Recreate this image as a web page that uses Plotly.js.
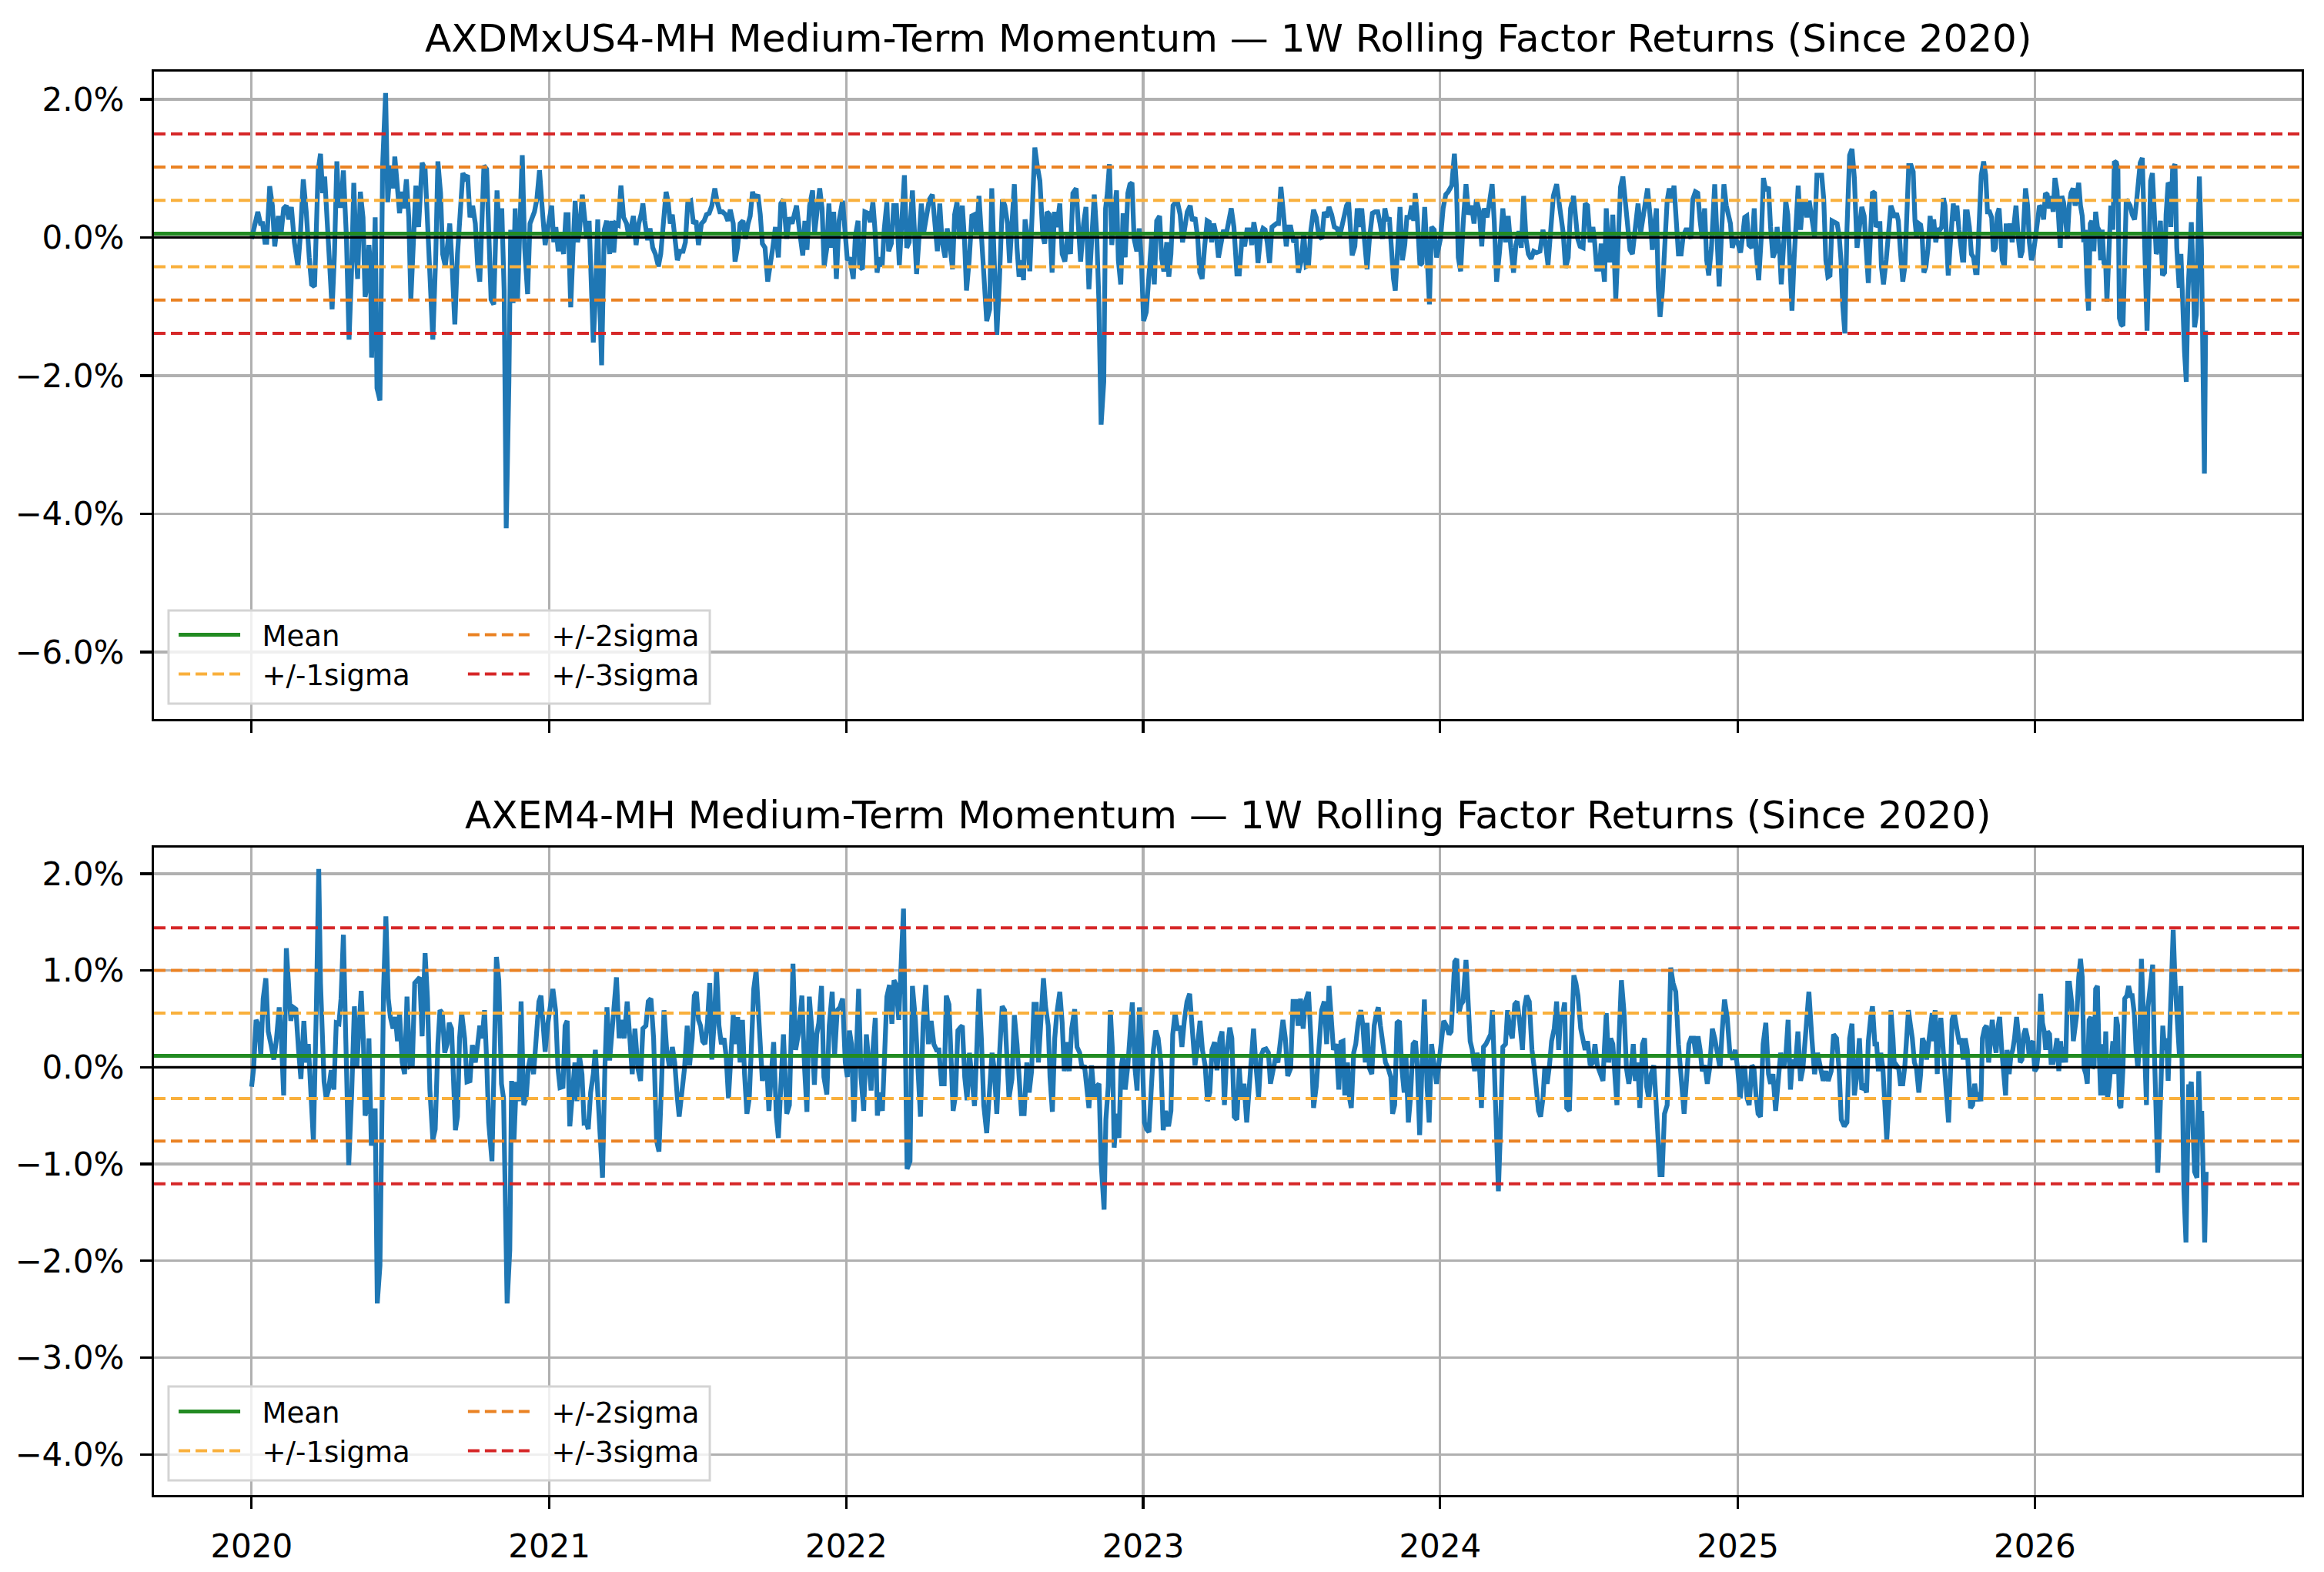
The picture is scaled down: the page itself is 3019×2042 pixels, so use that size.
<!DOCTYPE html>
<html>
<head>
<meta charset="utf-8">
<script src="https://cdn.plot.ly/plotly-3.0.1.min.js"></script>
<style>
  html, body { margin: 0; padding: 0; background: #fff; }
  #chart { width: 3019px; height: 2042px; }
</style>
</head>
<body>
<div id="chart"></div>
<script>
// sample positions are years since 2020-01-01, returns are 1W rolling returns in %
var dmYears = [
  0.000,0.007,0.021,0.030,0.037,0.045,0.051,0.061,0.070,0.078,
  0.090,0.099,0.108,0.117,0.125,0.134,0.144,0.156,0.164,0.174,
  0.184,0.194,0.202,0.212,0.224,0.232,0.239,0.246,0.253,0.263,
  0.271,0.279,0.287,0.293,0.301,0.309,0.319,0.328,0.337,0.344,
  0.352,0.357,0.366,0.375,0.382,0.386,0.395,0.400,0.404,0.411,
  0.416,0.422,0.432,0.438,0.441,0.451,0.458,0.467,0.477,0.482,
  0.489,0.498,0.505,0.512,0.521,0.529,0.536,0.545,0.553,0.562,
  0.574,0.584,0.592,0.600,0.610,0.620,0.627,0.636,0.643,0.652,
  0.660,0.667,0.675,0.684,0.693,0.703,0.711,0.719,0.727,0.735,
  0.744,0.753,0.761,0.768,0.776,0.782,0.791,0.798,0.806,0.815,
  0.822,0.826,0.834,0.842,0.850,0.857,0.866,0.872,0.880,0.887,
  0.895,0.902,0.911,0.919,0.929,0.937,0.945,0.952,0.960,0.969,
  0.979,0.988,0.996,1.002,1.010,1.017,1.024,1.032,1.040,1.050,
  1.058,1.065,1.074,1.082,1.089,1.097,1.103,1.113,1.121,1.128,
  1.136,1.143,1.150,1.157,1.165,1.171,1.178,1.187,1.195,1.205,
  1.212,1.219,1.226,1.234,1.243,1.252,1.262,1.270,1.278,1.285,
  1.294,1.303,1.312,1.317,1.323,1.333,1.341,1.350,1.359,1.369,
  1.377,1.385,1.395,1.402,1.409,1.416,1.424,1.433,1.442,1.452,
  1.460,1.468,1.478,1.487,1.496,1.504,1.514,1.523,1.531,1.540,
  1.549,1.559,1.567,1.576,1.585,1.595,1.603,1.611,1.621,1.627,
  1.635,1.644,1.654,1.662,1.671,1.678,1.686,1.694,1.704,1.712,
  1.719,1.728,1.737,1.746,1.754,1.763,1.773,1.781,1.790,
  1.801,1.810,1.819,1.826,1.834,1.843,1.855,1.862,1.869,1.878,
  1.888,1.895,1.903,1.912,1.920,1.927,1.936,1.943,1.950,1.959,
  1.968,1.977,1.989,1.998,2.005,2.013,2.025,2.032,2.041,2.046,
  2.056,2.064,2.074,2.082,2.091,2.098,2.105,2.113,2.122,2.129,
  2.138,2.144,2.153,2.161,2.170,2.180,2.188,2.197,2.205,2.213,
  2.224,2.232,2.238,2.246,2.254,2.262,2.272,2.281,2.291,2.299,
  2.308,2.316,2.324,2.334,2.341,2.349,2.359,2.366,2.374,2.383,
  2.392,2.399,2.406,2.415,2.424,2.433,2.440,2.448,2.456,2.465,
  2.474,2.484,2.491,2.499,2.508,2.517,2.527,2.535,2.544,2.551,
  2.559,2.567,2.576,2.583,2.591,2.598,2.603,2.611,2.619,2.627,
  2.636,2.644,2.653,2.663,2.669,2.677,2.685,2.694,2.702,2.710,
  2.720,2.728,2.737,2.746,2.756,2.764,2.775,2.782,2.790,2.800,
  2.808,2.818,2.827,2.836,2.844,2.851,2.859,2.868,2.874,2.880,
  2.887,2.895,2.903,2.911,2.917,2.925,2.933,2.940,2.949,2.956,
  2.963,2.970,2.979,2.987,2.994,3.002,3.011,3.020,3.029,3.038,
  3.046,3.056,3.063,3.070,3.080,3.087,3.094,3.101,3.110,3.116,
  3.125,3.133,3.142,3.149,3.159,3.166,3.175,3.184,3.191,3.199,
  3.207,3.216,3.223,3.231,3.238,3.247,3.254,3.262,3.271,3.279,
  3.287,3.297,3.306,3.316,3.324,3.333,3.342,3.350,3.359,3.366,
  3.373,3.381,3.387,3.396,3.404,3.411,3.418,3.426,3.434,3.442,
  3.449,3.456,3.464,3.473,3.482,3.490,3.497,3.507,3.515,3.523,
  3.533,3.541,3.549,3.557,3.565,3.574,3.583,3.592,3.602,3.610,
  3.618,3.626,3.635,3.644,3.653,3.662,3.669,3.677,3.685,3.692,
  3.698,3.704,3.713,3.721,3.728,3.736,3.745,3.754,3.762,3.772,
  3.781,3.790,3.798,3.806,3.814,3.822,3.829,3.837,3.843,3.849,
  3.856,3.865,3.873,3.881,3.888,3.897,3.904,3.911,3.916,3.923,
  3.932,3.939,3.948,3.956,3.964,3.971,3.980,3.988,3.995,4.001,
  4.010,4.019,4.027,4.039,4.048,4.055,4.061,4.069,4.078,4.087,
  4.096,4.106,4.114,4.122,4.132,4.140,4.148,4.158,4.166,4.175,
  4.182,4.190,4.200,4.211,4.220,4.229,4.238,4.247,4.255,4.265,
  4.273,4.281,4.289,4.297,4.306,4.315,4.324,4.336,4.346,4.354,
  4.363,4.372,4.381,4.392,4.400,4.407,4.414,4.422,4.431,4.439,
  4.449,4.455,4.463,4.471,4.481,4.488,4.496,4.505,4.514,4.520,
  4.527,4.536,4.542,4.548,4.553,4.559,4.568,4.574,4.581,4.591,
  4.600,4.607,4.615,4.624,4.631,4.639,4.647,4.657,4.666,4.675,
  4.683,4.690,4.698,4.707,4.714,4.722,4.728,4.734,4.740,4.748,
  4.755,4.764,4.771,4.779,4.787,4.795,4.802,4.811,4.818,4.827,
  4.835,4.844,4.850,4.859,4.867,4.875,4.882,4.890,4.897,4.904,
  4.913,4.924,4.932,4.939,4.948,4.955,4.963,4.971,4.977,4.983,
  4.992,5.001,5.011,5.018,5.025,5.032,5.039,5.049,5.057,5.064,
  5.072,5.081,5.088,5.096,5.105,5.112,5.120,5.128,5.134,5.143,
  5.148,5.156,5.163,5.170,5.177,5.184,5.191,5.198,5.205,5.213,
  5.220,5.227,5.234,5.242,5.251,5.260,5.268,5.277,5.284,5.291,
  5.298,5.305,5.312,5.319,5.328,5.336,5.343,5.349,5.355,5.362,
  5.369,5.378,5.386,5.394,5.403,5.411,5.419,
  5.427,5.432,5.441,5.449,5.455,5.462,5.467,5.474,5.480,5.485,
  5.492,5.501,5.511,5.517,5.524,5.529,5.536,5.542,5.549,5.557,
  5.564,5.571,5.577,5.585,5.592,5.598,5.603,5.611,5.617,5.622,
  5.628,5.635,5.642,5.649,5.656,5.661,5.668,5.675,5.682,5.688,
  5.694,5.699,5.705,5.710,5.716,5.722,5.727,5.733,5.739,5.746,
  5.751,5.758,5.762,5.768,5.774,5.781,5.788,5.795,5.802,5.807,
  5.814,5.821,5.829,5.836,5.842,5.849,5.856,5.862,5.869,5.875,
  5.881,5.886,5.892,5.899,5.905,5.911,5.918,5.925,5.932,5.938,
  5.945,5.953,5.959,5.964,5.970,5.977,5.983,5.990,5.996,6.003,
  6.010,6.017,6.024,6.031,6.037,6.043,6.050,6.056,6.063,6.069,
  6.076,6.082,6.087,6.092,6.098,6.105,6.111,6.117,6.123,6.130,
  6.137,6.143,6.149,6.155,6.161,6.166,6.171,6.177,6.182,6.188,
  6.193,6.200,6.206,6.212,6.217,6.223,6.228,6.234,6.240,6.244,
  6.251,6.257,6.264,6.269,6.276,6.281,6.286,6.292,6.298,6.303,
  6.309,6.315,6.322,6.329,6.337,6.343,6.350,6.356,6.363,6.369,
  6.375,6.379,6.385,6.391,6.397,6.403,6.410,6.417,6.424,6.431,
  6.438,6.443,6.450,6.454,6.459,6.465,6.473,6.479,6.487,6.493,
  6.499,6.505,6.511,6.517,6.524,6.528,6.534,6.539,6.545,6.549,
  6.555,6.562,6.567,6.572,6.576
];
var dmReturns = [
  -0.02,0.09,0.37,0.20,0.20,-0.07,-0.07,0.74,0.46,-0.13,
  0.31,0.04,0.42,0.46,0.26,0.44,-0.07,-0.42,0.02,0.84,
  0.37,-0.29,-0.68,-0.71,0.97,1.21,0.64,0.88,0.42,-0.42,
  -1.04,-0.24,1.10,0.46,0.46,0.97,0.02,-1.48,-0.42,0.79,
  -0.24,-0.60,0.66,0.29,-0.86,-0.77,-0.11,-0.42,-1.74,-0.42,
  0.29,-2.18,-2.36,-0.15,1.04,2.09,0.51,1.04,0.71,1.17,
  0.77,0.35,0.66,0.42,0.84,0.29,-0.90,-0.15,0.75,0.15,
  1.08,0.99,0.11,-0.42,-1.48,-0.24,1.10,0.64,-0.24,-0.42,
  -0.15,0.20,-0.42,-1.26,-0.24,0.46,0.93,0.86,0.90,0.29,
  0.46,0.20,-0.42,-0.64,0.24,1.04,0.99,-0.07,-0.90,-0.97,
  0.20,0.68,0.02,0.42,-0.77,-4.21,-2.09,0.11,-0.95,0.42,
  -0.90,0.13,1.19,-0.15,-0.82,0.20,0.29,0.37,0.55,0.97,
  0.37,-0.11,0.11,0.24,0.46,-0.07,0.15,-0.20,0.02,-0.24,
  0.33,0.33,-1.01,-0.15,0.53,-0.07,0.07,0.62,0.33,-0.02,
  0.24,-0.86,-1.52,-0.86,0.26,-0.86,-1.85,0.11,0.24,-0.24,
  0.24,-0.22,0.20,0.18,0.75,0.29,0.20,0.00,0.20,0.31,
  -0.11,0.20,0.35,0.49,0.24,-0.04,0.13,-0.15,-0.24,-0.42,
  -0.24,0.20,0.66,0.51,0.20,0.33,0.02,-0.33,-0.20,-0.20,
  -0.07,0.51,0.53,0.20,0.24,-0.11,0.20,0.24,0.33,0.35,
  0.46,0.71,0.51,0.37,0.37,0.33,0.24,0.40,0.20,-0.35,
  -0.15,0.20,0.24,-0.02,0.20,0.31,0.66,0.55,0.62,0.33,
  -0.09,-0.15,-0.64,-0.42,-0.15,0.15,-0.29,0.49,0.55,
  -0.02,0.29,0.20,0.35,0.46,0.13,-0.26,0.24,-0.18,0.46,
  0.68,0.07,0.46,0.71,0.42,-0.42,-0.15,0.49,-0.15,0.37,
  -0.60,0.24,0.53,0.02,-0.33,-0.29,-0.60,0.02,0.24,-0.42,
  -0.46,0.37,0.35,0.22,0.51,0.11,-0.51,-0.29,-0.42,0.11,
  0.51,-0.20,-0.09,0.46,0.46,-0.40,0.37,0.90,-0.15,-0.07,
  0.68,-0.07,-0.53,-0.02,0.49,0.07,0.37,0.55,0.62,0.20,
  -0.20,0.49,-0.07,-0.29,0.13,-0.07,-0.46,0.33,0.51,-0.02,
  0.46,-0.02,-0.77,-0.33,0.31,0.33,0.04,0.60,0.02,-0.60,
  -1.21,-1.04,0.71,-0.29,-1.41,-0.60,0.55,0.46,0.20,-0.37,
  0.24,0.77,-0.15,-0.57,-0.33,-0.62,0.26,0.02,-0.49,0.46,
  1.30,1.04,0.82,0.02,-0.09,0.37,0.33,-0.51,0.37,0.15,
  0.49,-0.24,-0.35,0.02,-0.24,0.64,0.71,0.20,-0.35,0.20,
  0.44,-0.75,-0.15,0.62,0.07,-0.86,-2.71,-2.09,0.42,0.64,
  1.06,-0.11,0.37,0.68,-0.33,-0.68,0.35,-0.29,0.64,0.77,
  0.79,-0.02,-0.20,0.13,-0.29,-1.21,-1.08,-0.55,-0.02,-0.68,
  0.24,0.31,-0.31,-0.49,-0.07,-0.57,-0.24,0.46,0.51,0.51,
  0.33,-0.07,0.24,0.37,0.46,0.24,0.29,0.00,-0.51,-0.60,
  -0.15,0.24,0.22,-0.07,0.20,0.02,-0.29,-0.07,0.11,0.02,
  0.18,0.42,0.15,-0.53,-0.53,-0.02,-0.13,0.11,0.11,-0.11,
  0.22,0.02,-0.37,0.02,0.13,0.11,-0.07,-0.37,0.15,0.18,
  0.20,0.20,0.73,0.33,-0.13,0.15,0.15,-0.07,-0.02,-0.51,
  -0.33,0.07,-0.42,-0.40,0.11,0.40,0.29,0.02,-0.02,0.37,
  0.29,0.44,0.33,0.15,0.13,0.02,0.15,0.24,0.46,0.51,
  -0.07,-0.26,-0.13,0.42,0.15,0.42,-0.02,-0.46,-0.02,0.35,
  0.37,0.37,0.20,-0.02,0.42,0.24,0.29,-0.42,-0.60,-0.77,
  -0.15,0.44,-0.33,-0.11,0.29,0.29,0.46,0.24,0.64,0.29,
  -0.40,-0.37,0.44,-0.42,-0.97,0.15,0.11,-0.29,-0.15,-0.02,
  0.42,0.62,0.66,0.75,1.21,0.73,-0.29,-0.49,0.24,0.77,
  0.33,0.46,0.20,0.55,0.37,-0.13,0.42,0.29,0.51,0.77,
  0.24,-0.64,-0.20,0.42,-0.07,0.31,-0.15,-0.51,-0.11,0.09,
  -0.15,0.60,-0.02,-0.24,-0.31,-0.20,-0.22,-0.20,0.11,-0.07,
  -0.40,0.15,0.60,0.77,0.51,0.24,0.07,-0.44,-0.29,0.42,
  0.60,0.33,-0.02,-0.13,-0.15,0.49,0.46,-0.07,0.15,-0.07,
  -0.46,-0.46,-0.09,-0.42,-0.64,0.42,-0.33,-0.33,0.33,-0.90,
  0.15,0.73,0.88,0.46,0.24,-0.18,-0.24,0.11,0.49,0.07,
  0.29,0.49,0.71,0.29,-0.18,0.20,0.42,-0.73,-1.15,-0.77,
  -0.15,0.53,0.71,0.51,0.75,0.11,-0.24,-0.24,0.02,0.11,
  0.11,-0.02,0.55,0.66,0.64,0.24,-0.02,0.42,-0.33,-0.55,
  -0.15,0.77,0.02,-0.71,0.15,0.77,0.46,0.33,0.20,-0.15,
  -0.02,-0.07,-0.22,0.02,0.29,0.31,-0.11,-0.15,0.42,-0.24,
  -0.62,0.02,0.86,0.68,0.73,0.15,-0.29,-0.20,0.15,-0.24,
  -0.68,-0.11,0.53,0.33,-0.33,-1.06,-0.33,0.33,0.75,0.11,
  0.51,0.51,0.29,0.53,0.24,0.02,0.90,0.90,0.90,0.55,
  -0.33,-0.57,-0.55,0.24,0.22,0.20,0.02,-0.33,-0.99,-1.39,
  0.11,1.19,1.28,0.86,-0.15,0.24,0.44,
  0.31,-0.15,-0.66,0.11,0.66,0.64,0.15,0.20,0.20,-0.42,
  -0.68,-0.33,0.15,0.46,0.37,0.29,0.35,0.24,-0.20,-0.64,
  -0.42,0.55,1.04,1.04,0.95,0.24,0.02,0.20,0.18,0.02,
  -0.51,-0.42,-0.15,0.31,0.02,0.26,-0.07,0.11,0.11,0.15,
  0.57,0.46,0.02,-0.55,-0.15,0.24,0.49,0.24,0.46,0.11,
  -0.15,-0.33,-0.33,0.37,0.37,0.15,-0.24,-0.29,-0.51,-0.51,
  0.20,0.90,1.10,0.90,0.37,0.37,0.29,-0.20,-0.15,0.33,
  0.42,-0.07,-0.33,-0.42,0.20,-0.02,0.20,-0.07,0.24,0.46,
  0.02,-0.29,-0.20,0.33,0.71,0.46,-0.07,-0.33,-0.24,-0.02,
  0.24,0.46,0.42,0.26,0.64,0.62,0.42,0.60,0.37,0.86,
  0.68,0.20,-0.15,0.60,0.51,0.24,-0.02,0.46,0.64,0.71,
  0.46,0.60,0.79,0.46,0.31,-0.07,0.11,-0.68,-1.06,0.20,
  0.24,-0.20,0.37,0.15,0.11,-0.33,0.11,-0.37,-0.42,-0.93,
  -0.15,0.46,0.11,1.10,1.08,0.99,-1.17,-1.26,-1.28,-0.33,
  0.55,0.51,0.46,0.33,0.26,0.49,0.77,1.08,1.15,0.33,
  -0.99,-1.35,-0.33,0.82,0.93,0.29,-0.24,-0.15,0.24,-0.55,
  -0.51,0.33,0.79,0.77,0.15,0.99,1.06,-0.15,-0.73,-0.24,
  -1.04,-1.65,-2.09,-0.77,-0.15,0.22,-0.55,-1.30,-1.12,-0.33,
  0.88,-0.15,-1.35,-3.42,-1.35
];

var emYears = [
  0.000,0.007,0.015,0.024,0.031,0.039,0.048,0.056,0.065,0.075,
  0.083,0.093,0.100,0.108,0.117,0.125,0.132,0.140,0.149,0.158,
  0.166,0.176,0.184,0.191,0.200,0.208,0.218,0.226,0.232,0.239,
  0.244,0.251,0.259,0.268,0.277,0.285,0.294,0.301,0.309,0.317,
  0.327,0.337,0.346,0.354,0.363,0.369,0.376,0.382,0.389,0.395,
  0.403,0.410,0.416,0.423,0.432,0.438,0.444,0.452,0.460,0.467,
  0.476,0.484,0.491,0.498,0.507,0.515,0.523,0.533,0.541,0.549,
  0.558,0.566,0.574,0.584,0.592,0.600,0.610,0.618,0.627,0.634,
  0.642,0.650,0.658,0.665,0.673,0.681,0.686,0.693,0.700,0.707,
  0.717,0.725,0.735,0.743,0.753,0.761,0.768,0.776,0.784,0.791,
  0.798,0.809,0.818,0.824,0.832,0.841,0.848,0.856,0.860,0.869,
  0.875,0.883,0.891,0.899,0.907,0.916,0.924,0.931,0.939,0.949,
  0.957,0.967,0.974,0.981,0.988,0.996,1.006,1.014,1.023,1.031,
  1.038,1.048,1.055,1.062,1.071,1.080,1.088,1.095,1.103,1.112,
  1.119,1.126,1.133,1.141,1.150,1.157,1.165,1.175,1.181,1.189,
  1.196,1.205,1.213,1.221,1.228,1.237,1.245,1.254,1.264,1.273,
  1.281,1.290,1.300,1.309,1.317,1.327,1.335,1.344,1.353,1.363,
  1.371,1.379,1.388,1.397,1.407,1.416,1.424,1.433,1.439,1.448,
  1.457,1.466,1.474,1.483,1.490,1.497,1.504,1.511,1.518,1.526,
  1.534,1.542,1.549,1.556,1.565,1.573,1.581,1.590,1.597,1.605,
  1.614,1.621,1.628,1.636,1.644,1.652,1.659,1.667,1.675,1.683,
  1.690,1.698,1.706,1.713,1.719,1.727,1.734,1.741,1.749,1.757,
  1.766,1.773,1.781,1.790,
  1.801,1.810,1.822,1.831,1.840,1.852,1.861,1.869,1.877,1.886,
  1.894,1.902,1.909,1.918,1.926,1.936,1.944,1.954,1.962,1.971,
  1.980,1.989,1.998,2.005,2.012,2.019,2.027,2.035,2.043,2.051,
  2.060,2.069,2.077,2.085,2.091,2.099,2.106,2.114,2.123,2.131,
  2.138,2.147,2.155,2.162,2.169,2.178,2.186,2.194,2.200,2.206,
  2.216,2.224,2.234,2.242,2.251,2.260,2.269,2.278,2.287,2.296,
  2.305,2.313,2.322,2.331,2.338,2.347,2.354,2.361,2.369,2.377,
  2.385,2.392,2.400,2.408,2.416,2.424,2.433,2.440,2.448,2.456,
  2.464,2.474,2.484,2.492,2.499,2.508,2.516,2.526,2.534,2.541,
  2.549,2.559,2.567,2.576,2.583,2.591,2.600,2.609,2.617,2.625,
  2.633,2.641,2.648,2.657,2.665,2.672,2.681,2.687,2.695,2.703,
  2.710,2.720,2.728,2.735,2.744,2.752,2.760,2.770,2.778,2.787,
  2.795,2.803,2.810,2.818,2.827,2.836,2.844,2.852,2.859,2.869,
  2.875,2.883,2.890,2.897,2.903,2.911,2.919,2.926,2.933,2.940,
  2.949,2.957,2.964,2.973,2.980,2.988,2.996,3.005,3.012,3.020,
  3.027,3.035,3.043,3.051,3.060,3.068,3.076,3.086,3.094,3.100,
  3.108,3.117,3.124,3.131,3.139,3.148,3.157,3.166,3.175,3.184,
  3.192,3.200,3.209,3.217,3.225,3.232,3.241,3.249,3.259,3.266,
  3.274,3.282,3.292,3.299,3.307,3.316,3.324,3.331,3.340,3.349,
  3.356,3.364,3.372,3.380,3.389,3.397,3.405,3.414,3.422,3.429,
  3.437,3.446,3.454,3.462,3.471,3.479,3.487,3.497,3.505,3.514,
  3.522,3.530,3.539,3.547,3.557,3.565,3.574,3.583,3.592,3.601,
  3.610,
  3.618,3.626,3.633,3.641,3.650,3.659,3.666,3.673,3.679,3.688,
  3.695,3.701,3.709,3.716,3.724,3.733,3.740,3.748,3.754,3.762,
  3.770,3.778,3.786,3.792,3.799,3.808,3.816,3.825,3.834,3.840,
  3.847,3.855,3.863,3.871,3.879,3.885,3.893,3.900,3.909,3.917,
  3.923,3.931,3.939,3.947,3.956,3.963,3.971,3.980,3.988,3.994,
  4.004,4.012,4.021,4.030,4.037,4.043,4.049,4.056,4.063,4.070,
  4.077,4.087,4.094,4.101,4.108,4.116,4.124,4.132,4.139,4.146,
  4.154,4.163,4.170,4.176,4.182,4.189,4.196,4.203,4.211,4.220,
  4.227,4.235,4.243,4.251,4.259,4.267,4.277,4.284,4.291,4.300,
  4.309,4.317,4.324,4.331,4.338,4.346,4.352,4.360,4.368,4.375,
  4.384,4.392,4.399,4.405,4.413,4.419,4.426,4.435,4.443,4.450,
  4.457,4.464,4.473,4.481,4.488,4.496,4.505,4.514,4.521,4.529,
  4.538,4.548,4.553,4.559,4.567,4.574,4.581,4.588,4.595,4.603,
  4.610,4.619,4.627,4.635,4.643,4.650,4.657,4.665,4.672,4.681,
  4.688,4.695,4.702,4.710,4.719,4.726,4.734,4.740,4.747,4.755,
  4.764,4.771,4.776,4.784,4.793,4.802,4.811,4.821,4.829,4.837,
  4.844,4.853,4.861,4.868,4.875,4.882,4.891,4.899,4.907,4.916,
  4.924,4.932,4.942,4.949,4.957,4.966,4.975,4.985,4.993,5.001,
  5.010,5.018,5.025,5.033,5.040,5.049,5.056,5.063,5.070,5.078,
  5.087,5.096,5.105,5.112,5.120,5.129,5.138,5.146,5.156,5.164,
  5.171,5.179,5.186,5.195,5.204,5.213,5.221,5.230,5.241,5.251,
  5.260,5.270,5.279,5.289,5.298,5.306,5.316,5.324,5.334,5.343,
  5.350,5.360,5.369,5.378,5.386,5.394,5.403,5.411,5.419,
  5.427,5.435,5.441,5.449,5.455,5.463,5.469,5.475,5.483,5.490,
  5.497,5.503,5.511,5.517,5.524,5.529,5.536,5.543,5.549,5.557,
  5.564,5.571,5.576,5.583,5.589,5.596,5.603,5.611,5.617,5.623,
  5.631,5.637,5.644,5.649,5.656,5.661,5.666,5.673,5.677,5.685,
  5.691,5.698,5.705,5.711,5.718,5.723,5.730,5.735,5.742,5.748,
  5.754,5.760,5.767,5.774,5.779,5.785,5.792,5.799,5.807,5.813,
  5.820,5.825,5.832,5.839,5.846,5.853,5.858,5.864,5.871,5.878,
  5.883,5.890,5.896,5.903,5.908,5.915,5.921,5.927,5.933,5.940,
  5.945,5.952,5.958,5.964,5.970,5.977,5.982,5.989,5.995,6.001,
  6.007,6.014,6.021,6.027,6.033,6.038,6.044,6.051,6.056,6.063,
  6.069,6.076,6.082,6.088,6.093,6.100,6.105,6.112,6.118,6.125,
  6.131,6.138,6.143,6.149,6.155,6.161,6.167,6.173,6.178,6.184,
  6.190,6.195,6.201,6.206,6.212,6.217,6.223,6.228,6.234,6.240,
  6.246,6.251,6.258,6.264,6.269,6.275,6.280,6.286,6.291,6.298,
  6.304,6.311,6.317,6.324,6.329,6.336,6.342,6.348,6.354,6.360,
  6.366,6.372,6.377,6.382,6.388,6.392,6.398,6.403,6.410,6.415,
  6.421,6.426,6.432,6.438,6.445,6.450,6.454,6.462,6.467,6.473,
  6.478,6.484,6.488,6.493,6.498,6.503,6.510,6.514,6.519,6.524,
  6.528,6.533,6.539,6.547,6.553,6.558,6.563,6.568,6.573,6.578
];
var emReturns = [
  -0.20,-0.01,0.49,0.43,0.12,0.71,0.92,0.37,0.24,0.08,
  0.27,0.62,0.30,-0.29,1.23,0.84,0.48,0.62,0.60,0.18,
  -0.12,0.48,0.05,0.24,-0.20,-0.76,0.62,2.05,0.87,0.34,
  -0.15,-0.32,-0.23,-0.03,-0.23,0.46,0.45,0.71,1.37,0.30,
  -1.01,-0.26,0.63,-0.01,0.43,0.79,0.30,-0.50,-0.42,0.30,
  -0.81,-0.45,-0.45,-2.44,-2.05,-0.64,0.78,1.56,0.71,0.52,
  0.40,0.52,0.27,0.56,0.05,-0.07,0.73,0.01,0.02,0.87,
  0.90,0.93,0.32,1.18,0.71,-0.23,-0.75,-0.64,0.24,0.59,
  0.56,0.15,0.24,0.46,0.40,-0.32,-0.65,-0.51,0.30,0.57,
  0.30,-0.15,-0.14,0.23,0.05,0.24,0.43,0.30,0.59,0.08,
  -0.57,-0.97,0.15,1.14,0.90,-0.17,-0.32,-2.05,-2.44,-1.89,
  -0.14,-0.76,-0.15,-0.35,0.68,-0.39,-0.32,-0.01,0.12,-0.07,
  0.24,0.68,0.74,0.43,0.16,0.43,0.63,0.81,0.59,-0.01,
  -0.21,-0.20,0.43,0.48,-0.61,-0.29,0.05,-0.35,0.13,-0.07,
  -0.57,-0.56,-0.64,-0.26,-0.07,0.18,-0.20,-0.83,-1.14,-0.01,
  0.62,0.07,0.40,0.71,0.93,0.30,0.49,0.30,0.68,0.30,
  -0.07,0.40,-0.01,-0.14,0.40,0.43,0.68,0.71,0.30,-0.76,
  -0.87,-0.23,0.59,0.18,-0.01,0.21,0.05,-0.32,-0.51,-0.26,
  -0.01,0.43,0.02,0.30,0.74,0.78,0.49,0.43,0.27,0.24,
  0.46,0.87,0.08,0.43,1.00,0.43,0.24,0.30,0.12,-0.32,
  0.30,0.54,0.24,0.52,0.05,0.49,-0.07,-0.48,-0.32,0.43,
  0.81,1.00,0.65,0.18,-0.14,-0.01,-0.01,-0.45,-0.07,0.26,
  -0.51,-0.73,-0.20,0.34,
  -0.48,-0.39,1.07,0.18,0.34,0.74,-0.01,-0.46,0.73,0.37,
  -0.18,0.34,0.46,0.84,-0.10,-0.28,0.43,0.78,0.12,0.59,
  0.62,0.71,0.05,-0.10,0.38,0.24,-0.56,-0.01,0.81,-0.10,
  -0.45,0.34,0.08,-0.24,0.18,0.51,-0.50,-0.26,-0.45,0.12,
  0.73,0.85,0.45,0.90,0.85,0.49,1.15,1.64,0.30,-1.05,
  -0.97,0.84,0.49,-0.01,-0.51,0.46,0.85,0.24,0.48,0.24,
  0.18,0.18,-0.17,-0.17,0.74,0.65,-0.01,-0.45,-0.29,0.38,
  0.41,0.43,-0.10,-0.34,0.15,-0.12,-0.40,0.15,0.81,0.30,
  -0.39,-0.68,-0.29,0.15,-0.01,-0.48,0.07,0.63,0.59,0.12,
  -0.32,-0.12,0.54,0.24,-0.20,-0.48,-0.48,0.05,-0.26,-0.04,
  0.65,0.65,0.05,0.62,0.92,0.63,0.43,-0.10,-0.46,0.30,
  0.56,0.78,0.46,-0.04,0.26,-0.04,0.40,0.60,0.21,0.15,
  -0.01,0.02,-0.20,-0.42,0.02,-0.32,-0.20,-0.17,-0.98,-1.47,
  -0.54,-0.20,0.59,0.18,-0.83,-0.48,-0.73,-0.01,0.13,-0.23,
  0.02,0.30,0.67,-0.01,-0.24,0.62,0.24,-0.57,-0.64,-0.67,
  -0.14,0.18,0.38,0.30,0.05,-0.65,-0.45,-0.61,-0.45,0.34,
  0.56,0.38,0.43,0.21,0.48,0.68,0.76,0.37,0.02,0.24,
  0.48,0.18,0.02,-0.35,-0.26,0.18,0.26,-0.03,0.30,0.37,
  -0.39,0.15,0.41,0.30,-0.51,-0.54,-0.01,-0.32,-0.17,-0.57,
  -0.29,0.05,0.40,0.02,-0.31,0.12,0.18,0.19,0.15,-0.17,
  -0.01,0.10,0.05,0.30,0.49,0.30,-0.09,-0.01,0.68,0.68,
  0.43,0.71,0.40,0.68,0.78,0.30,-0.42,-0.20,0.24,0.59,
  0.68,
  0.24,0.84,0.49,0.18,0.24,-0.23,0.26,0.27,-0.29,0.05,
  -0.32,-0.42,0.15,0.24,0.46,0.59,0.43,0.05,0.46,-0.01,
  -0.07,0.43,0.56,0.62,0.43,0.21,0.05,-0.01,-0.10,-0.48,
  -0.39,0.46,0.48,-0.01,-0.26,0.12,-0.57,-0.32,0.24,0.27,
  0.02,-0.70,-0.14,0.70,-0.20,-0.57,0.24,-0.01,-0.17,-0.01,
  0.30,0.48,0.43,0.34,0.37,0.81,1.09,1.12,0.56,0.65,
  0.68,1.11,0.56,0.27,0.18,-0.04,0.15,0.02,-0.42,0.21,
  0.24,0.30,0.34,0.59,-0.01,-0.64,-1.28,-0.64,0.21,0.24,
  0.59,0.37,0.30,0.65,0.68,0.49,0.18,0.62,0.74,0.68,
  0.18,-0.01,-0.20,-0.45,-0.51,-0.32,-0.01,-0.17,0.02,0.27,
  0.40,0.68,0.18,0.52,0.56,0.67,-0.42,-0.45,0.40,0.95,
  0.87,0.74,0.40,0.30,0.18,0.27,0.02,0.05,0.24,0.02,
  -0.07,-0.14,0.21,0.56,0.05,0.30,0.24,-0.01,-0.39,0.37,
  0.90,0.56,-0.01,-0.17,-0.01,0.24,-0.14,0.05,-0.42,0.24,
  0.30,-0.20,-0.32,-0.07,0.02,-0.32,-0.83,-1.11,-1.11,-0.48,
  -0.39,0.62,1.03,0.87,0.78,0.24,-0.07,-0.48,-0.14,0.24,
  0.30,0.30,0.12,0.32,0.18,-0.04,0.02,-0.17,-0.01,0.40,
  0.30,0.15,-0.01,0.37,0.70,0.52,0.15,0.08,0.18,-0.01,
  -0.32,-0.01,-0.01,-0.32,-0.39,0.02,-0.01,-0.29,-0.48,-0.51,
  0.24,0.46,-0.07,-0.17,-0.07,-0.45,-0.04,0.15,-0.01,0.15,
  0.49,-0.23,0.08,-0.01,0.37,-0.14,-0.01,0.37,0.78,0.30,
  -0.07,0.15,-0.01,-0.14,-0.04,-0.14,-0.04,0.34,0.30,-0.04,
  -0.54,-0.61,-0.57,0.30,0.45,-0.29,-0.07,0.30,-0.23,
  -0.20,-0.26,0.27,0.52,0.63,0.24,0.24,-0.04,0.15,-0.01,
  -0.32,-0.75,-0.32,0.59,0.30,-0.01,0.02,-0.01,-0.17,-0.17,
  0.02,0.46,0.59,0.43,0.30,0.05,-0.01,-0.26,-0.07,0.30,
  0.24,0.08,0.24,0.40,0.56,0.27,0.59,-0.07,0.30,0.51,
  0.24,0.05,-0.32,-0.57,-0.01,0.49,0.56,0.43,0.34,0.24,
  0.30,0.08,0.30,0.18,-0.23,-0.42,-0.39,-0.17,-0.35,-0.26,
  -0.35,0.30,0.40,0.43,0.05,0.43,0.49,0.30,0.15,0.43,
  0.52,0.18,-0.01,-0.29,0.18,-0.07,0.12,0.18,0.30,0.52,
  0.37,0.05,0.08,0.34,0.40,0.30,0.12,0.24,0.27,-0.04,
  -0.01,0.18,0.76,0.46,0.37,0.18,0.37,0.34,0.05,0.05,
  0.15,0.30,-0.04,0.27,0.05,0.21,0.05,0.87,0.87,0.68,
  0.27,0.49,0.56,0.93,1.12,0.93,-0.01,-0.07,-0.17,0.49,
  0.52,-0.01,0.02,0.81,0.84,0.21,-0.29,0.24,-0.29,0.37,
  -0.32,-0.20,0.12,0.27,-0.07,0.52,0.43,-0.39,-0.42,-0.01,
  0.71,0.74,0.84,0.74,0.74,0.56,0.18,-0.01,0.24,1.12,
  0.62,-0.23,-0.39,0.62,0.78,0.90,1.06,0.24,-0.51,-1.09,
  -0.64,-0.20,0.43,0.18,0.30,-0.14,0.30,0.93,1.42,0.90,
  0.59,0.37,0.12,0.84,-0.57,-1.27,-1.81,-0.79,-0.20,-0.20,
  -0.15,-0.57,-1.08,-1.14,-0.04,-0.64,-0.45,-1.11,-1.81,-1.08
];

// mean and standard deviation of each series
var dmMean = 0.055, dmSigma = 0.481;
var emMean = 0.119, emSigma = 0.441;

var dmTitle = 'AXDMxUS4-MH Medium-Term Momentum \u2014 1W Rolling Factor Returns (Since 2020)';
var emTitle = 'AXEM4-MH Medium-Term Momentum \u2014 1W Rolling Factor Returns (Since 2020)';
var legendNames = ['Mean', '+/-1sigma', '+/-2sigma', '+/-3sigma'];

var xRange = ['2019-09-03', '2026-11-25'];
var dmYRange = [-6.97, 2.40];
var emYRange = [-4.42, 2.27];

var FONT = 'DejaVu Sans';
var BLUE = '#1f77b4', GREEN = '#228b22', ORANGE1 = '#f9b03c', ORANGE2 = '#ea8223', RED = '#d62728';
var PAD = '\u00a0\u00a0'; // gap between legend sample and label

function toDate(t) {
  // years since 2020-01-01 -> date string
  return new Date(Date.UTC(2020, 0, 1) + t * 365.25 * 864e5).toISOString().slice(0, 19);
}

function levelTrace(levels, name, color, dash, width, xa, ya, legend, showlegend) {
  var x = [], y = [];
  levels.forEach(function(v, i) {
    if (i > 0) { x.push(null); y.push(null); }
    x.push(xRange[0], xRange[1]);
    y.push(v, v);
  });
  return {
    x: x, y: y, xaxis: xa, yaxis: ya,
    type: 'scatter', mode: 'lines', name: PAD + name,
    line: {color: color, width: width, dash: dash},
    legend: legend, showlegend: showlegend, hoverinfo: 'skip'
  };
}

function panelTraces(years, returns, mean, sigma, xa, ya, legA, legB) {
  return [
    {
      x: years.map(toDate), y: returns, xaxis: xa, yaxis: ya,
      type: 'scatter', mode: 'lines', line: {color: BLUE, width: 6.2},
      showlegend: false, hoverinfo: 'skip'
    },
    levelTrace([mean], legendNames[0], GREEN, 'solid', 5, xa, ya, legA, true),
    levelTrace([mean + sigma, mean - sigma], legendNames[1], ORANGE1, '15px,7px', 4, xa, ya, legA, true),
    levelTrace([mean + 2 * sigma, mean - 2 * sigma], legendNames[2], ORANGE2, '15px,7px', 4, xa, ya, legB, true),
    levelTrace([mean + 3 * sigma, mean - 3 * sigma], legendNames[3], RED, '15px,7px', 4, xa, ya, legB, true),
    levelTrace([0], 'zero', '#000', 'solid', 3.3, xa, ya, legA, false)
  ];
}

var data = [].concat(
  panelTraces(dmYears, dmReturns, dmMean, dmSigma, 'x2', 'y2', 'legend', 'legend2'),
  panelTraces(emYears, emReturns, emMean, emSigma, 'x', 'y', 'legend3', 'legend4')
);

var axisStyle = {
  ticks: 'outside', ticklen: 15, tickwidth: 3.3, tickcolor: '#000',
  showline: true, linecolor: '#000', linewidth: 3.3, mirror: true,
  showgrid: true, gridcolor: '#b0b0b0', gridwidth: 3.3, zeroline: false,
  tickfont: {family: FONT, size: 42, color: '#000'},
  ticklabelstandoff: 12
};

function merge(a, b) { return Object.assign({}, a, b); }

function legendAt(x, y) {
  return {
    x: x, y: y, xanchor: 'left', yanchor: 'top', orientation: 'v',
    bgcolor: 'rgba(0,0,0,0)', borderwidth: 0, itemwidth: 80,
    font: {family: FONT, size: 37, color: '#000'}
  };
}

function frame(y0, y1) {
  return {
    type: 'rect', xref: 'paper', yref: 'paper', x0: 0.0068, x1: 0.2588, y0: y0, y1: y1,
    line: {color: '#d4d4d4', width: 3}, fillcolor: 'rgba(255,255,255,0.8)', layer: 'above'
  };
}

var layout = {
  width: 3019, height: 2042,
  margin: {l: 200, r: 29, t: 93, b: 100},
  paper_bgcolor: '#fff', plot_bgcolor: '#fff',
  font: {family: FONT, color: '#000'},
  xaxis: merge(axisStyle, {
    type: 'date', range: xRange, domain: [0, 1], anchor: 'y',
    tick0: '2020-01-01', dtick: 'M12', tickformat: '%Y'
  }),
  xaxis2: merge(axisStyle, {
    type: 'date', matches: 'x', domain: [0, 1], anchor: 'y2',
    tick0: '2020-01-01', dtick: 'M12', showticklabels: false
  }),
  yaxis: merge(axisStyle, {
    range: emYRange, domain: [0, 0.4548], anchor: 'x',
    tick0: 0, dtick: 1, tickformat: '.1f', ticksuffix: '%'
  }),
  yaxis2: merge(axisStyle, {
    range: dmYRange, domain: [0.5452, 1], anchor: 'x2',
    tick0: 0, dtick: 2, tickformat: '.1f', ticksuffix: '%'
  }),
  legend: legendAt(0.0097, 0.6209),
  legend2: legendAt(0.1444, 0.6209),
  legend3: legendAt(0.0097, 0.0752),
  legend4: legendAt(0.1444, 0.0752),
  shapes: [frame(0.5560, 0.6214), frame(0.0103, 0.0763)],
  annotations: [
    {text: dmTitle, xref: 'paper', yref: 'paper', x: 0.5, y: 1.0230, xanchor: 'center', yanchor: 'middle',
     showarrow: false, font: {family: FONT, size: 50, color: '#000'}},
    {text: emTitle, xref: 'paper', yref: 'paper', x: 0.5, y: 0.4778, xanchor: 'center', yanchor: 'middle',
     showarrow: false, font: {family: FONT, size: 50, color: '#000'}}
  ],
  showlegend: true
};

Plotly.newPlot('chart', data, layout, {displayModeBar: false, staticPlot: true});
</script>
</body>
</html>
